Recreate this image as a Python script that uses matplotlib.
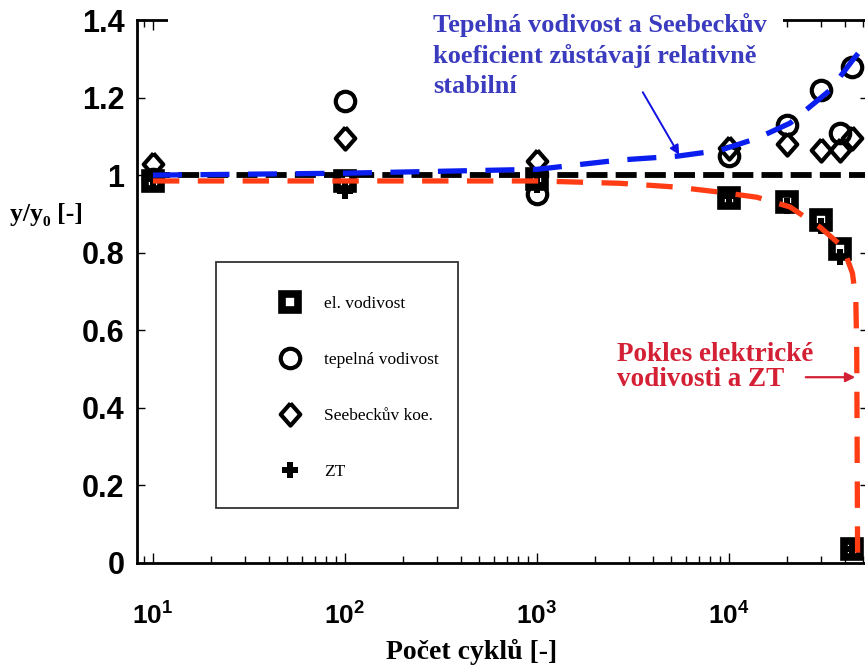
import numpy as np
import matplotlib
matplotlib.use("Agg")
import matplotlib.pyplot as plt
from matplotlib.path import Path
from matplotlib.patches import Rectangle

# data
cykly = [10, 100, 1000, 1e4, 2e4, 3e4, 3.8e4, 4.4e4]
el_vodivost = [0.985, 0.985, 0.99, 0.94, 0.93, 0.885, 0.81, 0.035]
tep_vodivost = [0.99, 1.19, 0.952, 1.05, 1.13, 1.22, 1.108, 1.278]
seebeck = [1.03, 1.095, 1.037, 1.07, 1.08, 1.064, 1.064, 1.095]
zt = [0.99, 0.96, 0.975, 0.945, 0.92, 0.87, 0.79, 0.035]

# trend lines (read as points along the dashed curves)
modra_x = [10, 100, 1000, 2700, 5400, 9000, 14000, 20800, 33600, 44000, 50000]
modra_y = [1.0, 1.005, 1.015, 1.039, 1.049, 1.064, 1.095, 1.134, 1.219, 1.296, 1.33]
cervena_x = [10, 100, 1000, 2700, 5400, 9000, 14000, 20800, 29800, 39300, 44000, 45800, 46300, 46800]
cervena_y = [0.985, 0.985, 0.985, 0.979, 0.969, 0.956, 0.943, 0.918, 0.866, 0.814, 0.747, 0.678, 0.549, 0.0]
cerna_x = [9.5, 53000]
cerna_y = [1.0, 1.0]

y_ticks = [0, 0.2, 0.4, 0.6, 0.8, 1, 1.2, 1.4]
y_labels = ["0", "0.2", "0.4", "0.6", "0.8", "1", "1.2", "1.4"]
x_ticks = [10, 100, 1000, 10000]
x_labels = [r"$10^{1}$", r"$10^{2}$", r"$10^{3}$", r"$10^{4}$"]

plt.rcParams["mathtext.fontset"] = "custom"
plt.rcParams["mathtext.rm"] = "Liberation Sans:bold"
plt.rcParams["mathtext.bf"] = "Liberation Sans:bold"
plt.rcParams["mathtext.it"] = "Liberation Sans:bold"

W, H = 865, 666
fig = plt.figure(figsize=(8.65, 6.66), dpi=100)
ax = fig.add_axes([137 / W, 1 - 563 / H, (868 - 137) / W, (563 - 20) / H])

# diamond a bit taller than wide
kosoctverec = Path([(0, 1), (0.88, 0), (0, -1), (-0.88, 0), (0, 1)])

ax.plot(cykly, el_vodivost, ls="none", marker="s", ms=12, mew=5.5, mec="black", mfc="white",
        label="el. vodivost", zorder=3)
ax.plot(cykly, tep_vodivost, ls="none", marker="o", ms=14, mew=3, mec="black", mfc="none",
        label="tepelná vodivost", zorder=3)
ax.plot(cykly, seebeck, ls="none", marker=kosoctverec, ms=16, mew=3, mec="black", mfc="none",
        label="Seebeckův koe.", zorder=3)
ax.plot(cykly, zt, ls="none", marker="P", ms=11, mew=0, color="black", label="ZT", zorder=3)

# dashed lines on top of the markers
ax.plot(cerna_x, cerna_y, color="black", lw=4.2, dashes=(3.6, 1.4), zorder=4)
ax.plot(modra_x, modra_y, color="#0a1ef0", lw=3.8, dashes=(5.5, 3.5), zorder=5)
ax.plot(cervena_x, cervena_y, color="#ff3c14", lw=3.8, dashes=(5.0, 3.5), zorder=5)

ax.set_xscale("log")
ax.set_xlim(8.26, 53000)
ax.set_ylim(0, 1.4)
ax.set_yticks(y_ticks)
ax.set_yticklabels(y_labels, fontfamily="Liberation Sans", fontweight="bold", fontsize=22)
ax.set_xticks(x_ticks)
ax.set_xticklabels(x_labels, fontsize=19)
ax.tick_params(axis="both", which="both", direction="in", top=True, right=True, width=1)
ax.tick_params(axis="y", which="major", length=6, pad=9)
ax.tick_params(axis="x", which="major", length=7, pad=29)
ax.tick_params(axis="x", which="minor", length=5)
for s in ax.spines.values():
    s.set_linewidth(2)

# legend without its own frame, box drawn separately
ax.legend(loc="upper left", bbox_to_anchor=(274 / W, 1 - 289 / H), bbox_transform=fig.transFigure,
          prop={"family": "Liberation Serif", "size": 12.5}, frameon=False,
          borderpad=0.4, labelspacing=2.3, handlelength=1.0, handletextpad=1.5, borderaxespad=0)
fig.patches.append(Rectangle((216 / W, 1 - 508 / H), (458 - 216) / W, (508 - 262) / H,
                             transform=fig.transFigure, fill=False, edgecolor="#333333",
                             lw=1.3, zorder=2))
# top frame is cut out behind the blue note
fig.patches.append(Rectangle((168 / W, 1 - 36 / H), (783 - 168) / W, 36 / H,
                             transform=fig.transFigure, facecolor="white", edgecolor="none", zorder=1))

fig.text(10 / W, 1 - 215 / H, "y/y₀ [-]", family=["Liberation Serif", "DejaVu Serif"],
         fontweight="bold", fontsize=18.5, va="center", ha="left")
fig.text(472 / W, 1 - 652 / H, "Počet cyklů [-]", family="Liberation Serif",
         fontweight="bold", fontsize=20, va="center", ha="center")

fig.text(433 / W, 1 - 13 / H, "Tepelná vodivost a Seebeckův\nkoeficient zůstávají relativně\nstabilní",
         family="Liberation Serif", fontweight="bold", fontsize=19, color="#3b3bbf",
         va="top", ha="left", linespacing=1.38)
ax.annotate("", xy=(5600, 1.046), xytext=(3500, 1.22),
            arrowprops=dict(arrowstyle="-|>", color="#1010e0", lw=1.4, mutation_scale=14))

fig.text(617 / W, 1 - 367 / H, "Pokles elektrické\nvodivosti a ZT",
         family="Liberation Serif", fontweight="bold", fontsize=19.5, color="#d42035",
         va="center", ha="left", linespacing=1.05)
ax.annotate("", xy=(47000, 0.479), xytext=(24300, 0.479),
            arrowprops=dict(arrowstyle="-|>", color="#d42035", lw=1.6, mutation_scale=14))

plt.savefig("out.png", dpi=100)
